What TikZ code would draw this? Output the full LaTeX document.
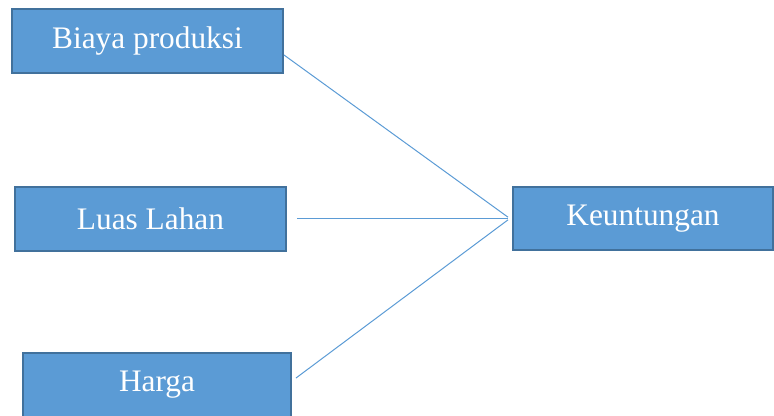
\documentclass[tikz,border=0pt]{standalone}
\usepackage{fontspec}
\setmainfont{Liberation Serif}
\definecolor{boxfill}{HTML}{5B9BD5}
\definecolor{boxline}{HTML}{41719C}
\tikzset{
  faktor/.style={draw=boxline, line width=1.5pt, fill=boxfill, text=white,
    minimum height=48pt, inner sep=0pt, font=\fontsize{23.5}{28}\selectfont},
  garis/.style={draw=boxfill, line width=0.75pt}
}
\begin{document}
\begin{tikzpicture}[x=0.75pt, y=-0.75pt]
      \useasboundingbox (0,0) rectangle (774,415);
      \clip (0,0) rectangle (774,415);
      \draw
        (147.5,41) node[faktor, minimum width=203.25pt] (biaya){Biaya produksi}
        (150.5,218.5) node[faktor, minimum width=203.25pt] (luas){Luas Lahan}
        (157,385) node[faktor, minimum width=201pt] (harga){Harga}
        (643,218.5) node[faktor, minimum width=195pt, minimum height=47.25pt] (untung){Keuntungan};
      \begin{scope}[garis]
        \draw ([yshift=-10.5pt]biaya.east) to ([xshift=-3pt,yshift=1pt]untung.west);
        \draw ([xshift=7.5pt]luas.east) to ([xshift=-3pt]untung.west);
        \draw ([xshift=3pt,yshift=5.25pt]harga.east) to ([xshift=-3pt,yshift=-1pt]untung.west);
      \end{scope}
    \end{tikzpicture}
\end{document}
